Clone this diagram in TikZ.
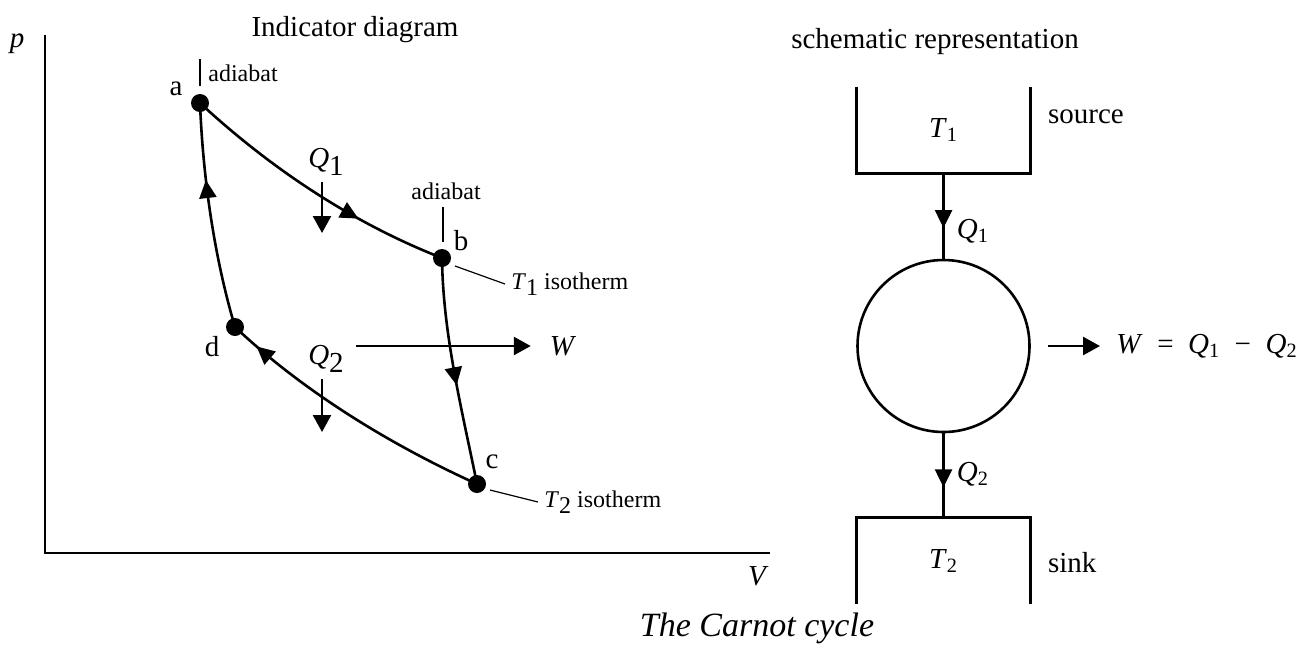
\documentclass[tikz,border=0pt]{standalone}
\usepackage{fontspec}
\setmainfont{Liberation Serif}
\usetikzlibrary{arrows.meta,calc,decorations.markings}

\newcommand{\lowsub}[1]{\raisebox{-0.55ex}{#1}}

\tikzset{
  curve/.style={line width=1.3pt},
  leader/.style={line width=0.6pt},
  flow/.style={line width=1.3pt,-{Triangle[length=8.5pt,width=9pt]}},
  midarrow/.style={postaction={decorate,decoration={markings,
      mark=at position #1 with {\arrow{Triangle[length=9pt,width=8.5pt]}}}}},
  statept/.style={circle,fill=black,inner sep=0pt,minimum size=9pt},
  lbl/.style={font=\fontsize{14.5}{16}\selectfont},
  small/.style={font=\fontsize{12}{14}\selectfont}
}

\begin{document}
\begin{tikzpicture}[x=0.5pt,y=-0.5pt]
\useasboundingbox (0,0) rectangle (1305,655);

% Indicator diagram (left)
\node[lbl] (title) at (355,30) {Indicator diagram};
\coordinate (ptop) at (45,35);
\coordinate (orig) at (45,553);
\coordinate (vend) at (770,553);
\draw[curve] (ptop) -- (orig) -- (vend);
\node[lbl,font=\fontsize{14.5}{16}\selectfont\itshape] (plbl) at (17,44) {p};
\node[lbl,font=\fontsize{14.5}{16}\selectfont\itshape] (vlbl) at (757,576) {V};

% state points
\node[statept] (a) at (200,103) {};
\node[statept] (b) at (442,258) {};
\node[statept] (c) at (477,484) {};
\node[statept] (d) at (235,327) {};
\node[lbl] (alb) at (176,89) {a};
\node[lbl] (blb) at (461,241) {b};
\node[lbl] (clb) at (492,462) {c};
\node[lbl] (dlb) at (212,347) {d};

% cycle
\draw[curve,midarrow=0.68] (a.center) .. controls (268,166) and (350,222) .. (b.center);
\draw[curve,midarrow=0.56] (b.center) .. controls (443,335) and (462,410) .. (c.center);
\draw[curve,midarrow=0.9] (c.center) .. controls (391,445) and (304,392) .. (d.center);
\draw[curve,midarrow=0.66] (d.center) .. controls (214,256) and (203,178) .. (a.center);

% adiabat and isotherm labels
\draw[leader] ($(a)+(0,-17)$) -- ++(0,-27);
\node[small,anchor=west,inner sep=1pt] (adia1) at (206,73) {adiabat};
\draw[leader] ($(b)+(1,-16)$) -- ++(0,-35);
\node[small,anchor=south,inner sep=1pt] (adia2) at (446,202) {adiabat};
\node[small,anchor=west,inner xsep=3pt] (iso1) at (505,284) {\textit{T}\lowsub{1} isotherm};
\draw[leader] ($(b)+(13,8)$) -- (iso1.west);
\node[small,anchor=west,inner xsep=3pt] (iso2) at (538,502) {\textit{T}\lowsub{2} isotherm};
\draw[leader] ($(c)+(13,6)$) -- (iso2.west);

% heat and work
\node[lbl] (q1l) at (326,162) {\textit{Q}\lowsub{1}};
\coordinate (q1tip) at (322,233);
\draw[flow] (q1tip |- q1l.south) -- (q1tip);
\node[lbl] (q2l) at (326,359) {\textit{Q}\lowsub{2}};
\coordinate (q2tip) at (322,432);
\draw[flow] (q2tip |- q2l.south) -- (q2tip);
\coordinate (wl) at (356,346);
\node[lbl] (wlbl) at (563,346) {\textit{W}};
\draw[flow,shorten >=6pt] (wl) -- (wlbl.west);

% schematic representation (right)
\node[lbl] (stitle) at (935,42) {schematic representation};
\node[minimum width=86.5pt,minimum height=43pt,inner sep=0pt,lbl] (src) at (943.5,130) {\textit{T}\textsubscript{1}};
\draw[curve] (src.north west) -- (src.south west) -- (src.south east) -- (src.north east);
\node[lbl,anchor=west] (srclbl) at (1041,117) {source};
\node[draw,circle,line width=1.3pt,minimum size=86pt,inner sep=0pt] (engine) at (943.5,346) {};
\node[minimum width=86.5pt,minimum height=43pt,inner sep=0pt,lbl] (snk) at (943.5,561) {\textit{T}\textsubscript{2}};
\draw[curve] (snk.south west) -- (snk.north west) -- (snk.north east) -- (snk.south east);
\node[lbl,anchor=west] (snklbl) at (1041,563) {sink};

\draw[curve,midarrow=0.64] (src.south) -- (engine.north)
  node[lbl,pos=0.68,anchor=west,inner xsep=6pt] (q1r) {\textit{Q}\textsubscript{1}};
\draw[curve,midarrow=0.64] (engine.south) -- (snk.north)
  node[lbl,pos=0.48,anchor=west,inner xsep=6pt] (q2r) {\textit{Q}\textsubscript{2}};
\coordinate (wstart) at (1048,346);
\node[lbl,anchor=west,inner xsep=8pt] (weq) at (1100,346)
  {\textit{W}\enspace=\enspace\textit{Q}\textsubscript{1}\enspace−\enspace\textit{Q}\textsubscript{2}};
\draw[flow] (wstart) -- (weq.west);

% caption
\node[font=\fontsize{17}{19}\selectfont\itshape] (caption) at (757,628) {The Carnot cycle};
\end{tikzpicture}
\end{document}
